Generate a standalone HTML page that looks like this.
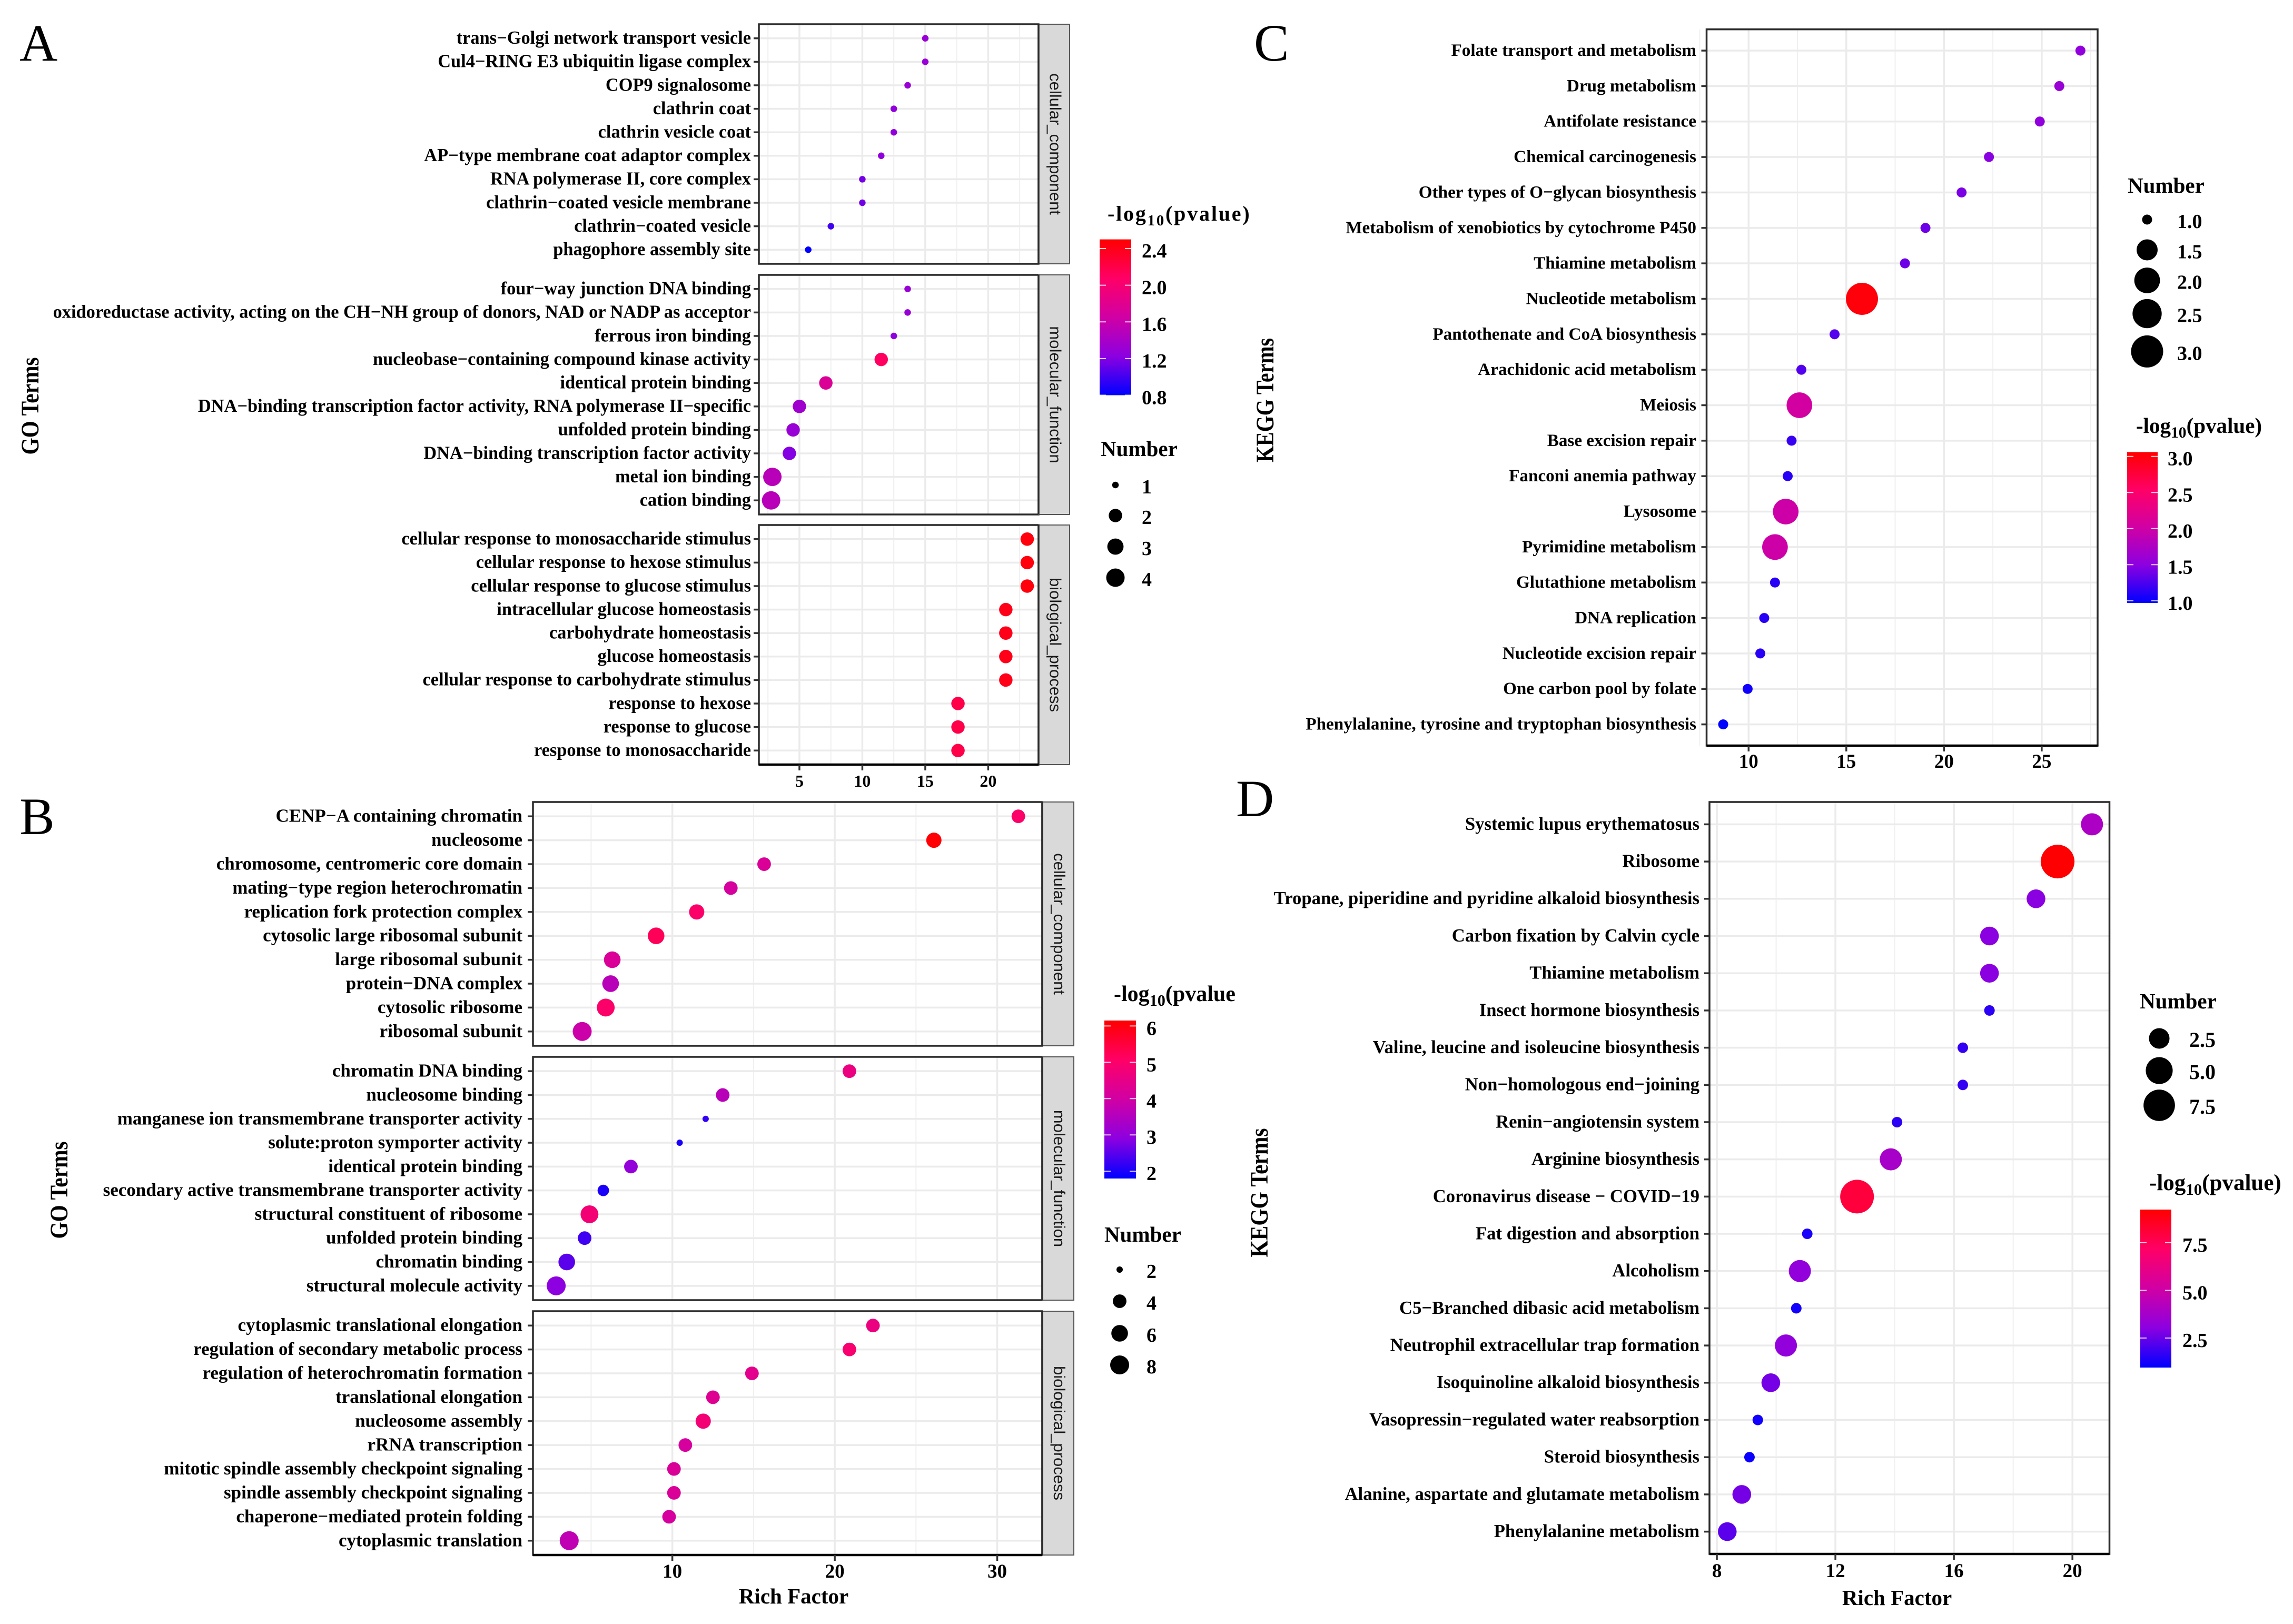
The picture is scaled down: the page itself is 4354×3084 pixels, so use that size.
<!DOCTYPE html>
<html lang="en">
<head>
<meta charset="utf-8">
<title>GO and KEGG enrichment bubble charts</title>
<style>
html,body{margin:0;padding:0;background:#fff;width:4354px;height:3084px;overflow:hidden}
svg{display:block}
text{font-family:"Liberation Serif",serif;font-weight:700;fill:#000}
</style>
</head>
<body>
<svg id="figure" xmlns="http://www.w3.org/2000/svg" width="4354" height="3084" viewBox="0 0 4354 3084">
<defs><clipPath id="clip-b-title"><rect x="2100" y="1850" width="245" height="80"/></clipPath></defs>
<rect x="0" y="0" width="4354" height="3084" fill="#fff"/>
<text x="37" y="115" font-size="100" style="font-weight:400">A</text>
<text x="37" y="1584" font-size="100" style="font-weight:400">B</text>
<text x="2381" y="115" font-size="100" style="font-weight:400">C</text>
<text x="2347" y="1550" font-size="100" style="font-weight:400">D</text>
</svg>
<script>
/* ---------- Chart A data ---------- */
const aCcTerms = ["trans−Golgi network transport vesicle","Cul4−RING E3 ubiquitin ligase complex","COP9 signalosome","clathrin coat","clathrin vesicle coat","AP−type membrane coat adaptor complex","RNA polymerase II, core complex","clathrin−coated vesicle membrane","clathrin−coated vesicle","phagophore assembly site"];
const aCcRich = [15,15,13.6,12.5,12.5,11.5,10,10,7.5,5.7];
const aCcCount = [1,1,1,1,1,1,1,1,1,1];
const aCcLogP = [1.3,1.3,1.3,1.25,1.25,1.25,1.15,1.15,1.0,0.8];
const aMfTerms = ["four−way junction DNA binding","oxidoreductase activity, acting on the CH−NH group of donors, NAD or NADP as acceptor","ferrous iron binding","nucleobase−containing compound kinase activity","identical protein binding","DNA−binding transcription factor activity, RNA polymerase II−specific","unfolded protein binding","DNA−binding transcription factor activity","metal ion binding","cation binding"];
const aMfRich = [13.6,13.6,12.5,11.5,7.1,5,4.5,4.2,2.85,2.75];
const aMfCount = [1,1,1,2,2,2,2,2,4,4];
const aMfLogP = [1.3,1.3,1.25,2.1,1.75,1.35,1.3,1.2,1.5,1.5];
const aBpTerms = ["cellular response to monosaccharide stimulus","cellular response to hexose stimulus","cellular response to glucose stimulus","intracellular glucose homeostasis","carbohydrate homeostasis","glucose homeostasis","cellular response to carbohydrate stimulus","response to hexose","response to glucose","response to monosaccharide"];
const aBpRich = [23.1,23.1,23.1,21.4,21.4,21.4,21.4,17.6,17.6,17.6];
const aBpCount = [2,2,2,2,2,2,2,2,2,2];
const aBpLogP = [2.45,2.45,2.45,2.4,2.4,2.4,2.4,2.2,2.2,2.2];
const aXTicks = [5,10,15,20];
const aXMinor = [2.5,7.5,12.5,17.5,22.5];
const aColorTicks = ["0.8","1.2","1.6","2.0","2.4"];
const aSizeTicks = ["1","2","3","4"];

/* ---------- Chart B data ---------- */
const bCcTerms = ["CENP−A containing chromatin","nucleosome","chromosome, centromeric core domain","mating−type region heterochromatin","replication fork protection complex","cytosolic large ribosomal subunit","large ribosomal subunit","protein−DNA complex","cytosolic ribosome","ribosomal subunit"];
const bCcRich = [31.3,26.1,15.65,13.6,11.5,9.0,6.3,6.2,5.9,4.45];
const bCcCount = [4,5,4,4,5,6,6,6,7,8];
const bCcLogP = [5.0,6.1,4.2,4.1,5.0,5.2,4.2,3.6,5.0,3.9];
const bMfTerms = ["chromatin DNA binding","nucleosome binding","manganese ion transmembrane transporter activity","solute:proton symporter activity","identical protein binding","secondary active transmembrane transporter activity","structural constituent of ribosome","unfolded protein binding","chromatin binding","structural molecule activity"];
const bMfRich = [20.9,13.1,12.05,10.45,7.45,5.75,4.9,4.6,3.5,2.85];
const bMfCount = [4,4,2,2,4,3,7,4,6,8];
const bMfLogP = [4.6,3.6,2.2,2.0,3.0,2.0,4.8,2.3,2.5,2.9];
const bBpTerms = ["cytoplasmic translational elongation","regulation of secondary metabolic process","regulation of heterochromatin formation","translational elongation","nucleosome assembly","rRNA transcription","mitotic spindle assembly checkpoint signaling","spindle assembly checkpoint signaling","chaperone−mediated protein folding","cytoplasmic translation"];
const bBpRich = [22.35,20.9,14.9,12.5,11.9,10.8,10.1,10.1,9.8,3.65];
const bBpCount = [4,4,4,4,5,4,4,4,4,8];
const bBpLogP = [4.6,4.9,4.4,4.3,4.8,4.1,4.2,4.2,4.1,3.7];
const bXTicks = [10,20,30];
const bXMinor = [5,15,25];
const bColorTicks = ["2","3","4","5","6"];
const bSizeTicks = ["2","4","6","8"];

/* ---------- Chart C data ---------- */
const cTerms = ["Folate transport and metabolism","Drug metabolism","Antifolate resistance","Chemical carcinogenesis","Other types of O−glycan biosynthesis","Metabolism of xenobiotics by cytochrome P450","Thiamine metabolism","Nucleotide metabolism","Pantothenate and CoA biosynthesis","Arachidonic acid metabolism","Meiosis","Base excision repair","Fanconi anemia pathway","Lysosome","Pyrimidine metabolism","Glutathione metabolism","DNA replication","Nucleotide excision repair","One carbon pool by folate","Phenylalanine, tyrosine and tryptophan biosynthesis"];
const cRich = [26.98,25.9,24.9,22.3,20.9,19.05,18.0,15.8,14.4,12.7,12.6,12.2,12.0,11.9,11.35,11.35,10.8,10.6,9.95,8.7];
const cCount = [1,1,1,1,1,1,1,3,1,1,2,1,1,2,2,1,1,1,1,1];
const cLogP = [1.55,1.6,1.55,1.5,1.45,1.4,1.4,3.0,1.3,1.3,2.05,1.2,1.15,2.0,2.0,1.15,1.15,1.15,1.05,1.0];
const cXTicks = [10,15,20,25];
const cXMinor = [7.5,12.5,17.5,22.5,27.5];
const cColorTicks = ["1.0","1.5","2.0","2.5","3.0"];
const cSizeTicks = ["1.0","1.5","2.0","2.5","3.0"];

/* ---------- Chart D data ---------- */
const dTerms = ["Systemic lupus erythematosus","Ribosome","Tropane, piperidine and pyridine alkaloid biosynthesis","Carbon fixation by Calvin cycle","Thiamine metabolism","Insect hormone biosynthesis","Valine, leucine and isoleucine biosynthesis","Non−homologous end−joining","Renin−angiotensin system","Arginine biosynthesis","Coronavirus disease − COVID−19","Fat digestion and absorption","Alcoholism","C5−Branched dibasic acid metabolism","Neutrophil extracellular trap formation","Isoquinoline alkaloid biosynthesis","Vasopressin−regulated water reabsorption","Steroid biosynthesis","Alanine, aspartate and glutamate metabolism","Phenylalanine metabolism"];
const dRich = [20.66,19.5,18.77,17.2,17.2,17.2,16.3,16.3,14.08,13.87,12.73,11.05,10.8,10.68,10.33,9.82,9.38,9.1,8.84,8.35];
const dCount = [3,9,2,2,2,1,1,1,1,3,9,1,3,1,3,2,1,1,2,2];
const dLogP = [4.0,9.2,3.0,3.0,3.0,1.6,1.7,1.7,1.6,3.8,8.0,1.3,3.2,1.2,3.2,2.7,1.2,1.1,2.7,2.3];
const dXTicks = [8,12,16,20];
const dXMinor = [10,14,18];
const dColorTicks = ["2.5","5.0","7.5"];
const dSizeTicks = ["2.5","5.0","7.5"];

/* ---------- Helpers ---------- */
const NS = "http://www.w3.org/2000/svg";
const root = document.getElementById("figure");
const GRADIENT = [[0,[0,0,255]],[0.25,[140,0,224]],[0.5,[208,0,164]],[0.75,[255,0,102]],[1,[255,0,0]]];

function mk(tag, attrs, parent) {
  const e = document.createElementNS(NS, tag);
  for (const k in attrs) e.setAttribute(k, attrs[k]);
  parent.appendChild(e);
  return e;
}
function colorAt(t) {
  t = Math.max(0, Math.min(1, t));
  for (let i = 1; i < GRADIENT.length; i++) {
    if (t <= GRADIENT[i][0]) {
      const a = GRADIENT[i-1], b = GRADIENT[i];
      const f = (t - a[0]) / (b[0] - a[0]);
      const c = a[1].map((v, j) => Math.round(v + (b[1][j] - v) * f));
      return "rgb(" + c.join(",") + ")";
    }
  }
  return "rgb(255,0,0)";
}
function sizeOf(n, s) {
  return s.dMin + (s.dMax - s.dMin) * Math.sqrt(Math.max(0, (n - s.nMin) / (s.nMax - s.nMin)));
}
function rotatedTitle(str, x, cy, size, len, parent, name) {
  const t = mk("text", {transform:"translate("+x+","+cy+") rotate(-90)","text-anchor":"middle","font-size":size,textLength:len,lengthAdjust:"spacingAndGlyphs"}, parent);
  t.textContent = str;
  
  
}

/* one facet: gridlines, ticks, term labels, dots, border, optional strip */
function drawFacet(c, f, terms, rich, count, logP, parent) {
  const xOf = v => c.left + (v - c.xMin) * (c.right - c.left) / (c.xMax - c.xMin);
  const unit = (f.bottom - f.top) / (terms.length - 1 + 1.2);
  const yOf = i => f.top + (i + 0.6) * unit;
  const g = mk("g", {}, parent);
  
  
  const panel = mk("rect", {x:c.left,y:f.top,width:c.right-c.left,height:f.bottom-f.top,fill:"#fff"}, g);
  
  
  c.minor.forEach(v => {
    const l = mk("line", {x1:xOf(v),x2:xOf(v),y1:f.top,y2:f.bottom,stroke:"#f0f0f0","stroke-width":2}, g);
    
    
  });
  c.ticks.forEach(v => {
    const l = mk("line", {x1:xOf(v),x2:xOf(v),y1:f.top,y2:f.bottom,stroke:"#ebebeb","stroke-width":3.5}, g);
    
    
  });
  terms.forEach((term, i) => {
    const y = yOf(i);
    const l = mk("line", {x1:c.left,x2:c.right,y1:y,y2:y,stroke:"#ebebeb","stroke-width":3.5}, g);
    
    
    const tk = mk("line", {x1:c.left-10,x2:c.left,y1:y,y2:y,stroke:"#333","stroke-width":3.5}, g);
    
    
    const t = mk("text", {x:c.labelRight,y:y+c.labelSize*0.3,"text-anchor":"end","font-size":c.labelSize}, g);
    t.textContent = term;
    
    
  });
  terms.forEach((term, i) => {
    const d = mk("circle", {cx:xOf(rich[i]),cy:yOf(i),r:sizeOf(count[i],c.size)/2,fill:colorAt((logP[i]-c.lo)/(c.hi-c.lo))}, g);
    
    
  });
  const b = mk("rect", {x:c.left,y:f.top,width:c.right-c.left,height:f.bottom-f.top,fill:"none",stroke:"#2b2b2b","stroke-width":3.5}, g);
  
  
  if (f.strip) {
    const s = mk("rect", {x:c.right,y:f.top,width:c.stripW,height:f.bottom-f.top,fill:"#d9d9d9",stroke:"#555","stroke-width":2}, g);
    
    
    const sl = mk("line", {x1:c.right,x2:c.right,y1:f.top,y2:f.bottom,stroke:"#2b2b2b","stroke-width":3.5}, g);
    
    
    const st = mk("text", {transform:"translate("+(c.right+c.stripW/2-8)+","+((f.top+f.bottom)/2)+") rotate(90)","text-anchor":"middle","font-size":31}, g);
    st.style.fontFamily = '"Liberation Sans",sans-serif';
    st.style.fontWeight = "400";
    st.style.fill = "#1a1a1a";
    st.textContent = f.strip;
    
    
  }
}
function drawXAxis(c, parent) {
  const xOf = v => c.left + (v - c.xMin) * (c.right - c.left) / (c.xMax - c.xMin);
  const g = mk("g", {}, parent);
  
  
  const base = mk("line", {x1:c.left,x2:c.right,y1:c.axisY,y2:c.axisY,stroke:"#000","stroke-width":4.5}, g);
  
  
  c.ticks.forEach(v => {
    const t = mk("line", {x1:xOf(v),x2:xOf(v),y1:c.axisY,y2:c.axisY+11,stroke:"#333","stroke-width":3.5}, g);
    
    
    const l = mk("text", {x:xOf(v),y:c.tickBaseline,"text-anchor":"middle","font-size":c.tickSize}, g);
    l.textContent = String(v);
    
    
  });
  if (c.xTitleX) {
    const t = mk("text", {x:c.xTitleX,y:c.xTitleY,"text-anchor":"middle","font-size":41}, g);
    t.textContent = "Rich Factor";
    
    
  }
}
function drawColorLegend(L, labels, parent, id) {
  const g = mk("g", {}, parent);
  
  
  const title = mk("text", {x:L.titleX,y:L.titleY,"font-size":L.titleSize,"letter-spacing":L.spacing||0}, g);
  if (L.clip) title.setAttribute("clip-path", "url(#" + L.clip + ")");
  
  
  const t1 = mk("tspan", {}, title); t1.textContent = "-log";
  const t2 = mk("tspan", {dy:9,"font-size":L.titleSize*0.72}, title); t2.textContent = "10";
  const t3 = mk("tspan", {dy:-9}, title); t3.textContent = "(pvalue)";
  const grad = mk("linearGradient", {id:id,x1:0,y1:1,x2:0,y2:0}, root.querySelector("defs"));
  GRADIENT.forEach(s => { mk("stop", {offset:s[0],"stop-color":colorAt(s[0])}, grad); });
  const bar = mk("rect", {x:L.barX,y:L.barTop,width:L.barW,height:L.barBottom-L.barTop,fill:"url(#"+id+")"}, g);
  
  
  const yOf = v => L.barBottom - (v - L.lo) * (L.barBottom - L.barTop) / (L.hi - L.lo);
  labels.forEach(s => {
    const v = parseFloat(s), y = yOf(v);
    const a = mk("line", {x1:L.barX,x2:L.barX+12,y1:y,y2:y,stroke:"#fff","stroke-width":2,opacity:.8}, g);
    
    
    const b = mk("line", {x1:L.barX+L.barW-12,x2:L.barX+L.barW,y1:y,y2:y,stroke:"#fff","stroke-width":2,opacity:.8}, g);
    
    
    const t = mk("text", {x:L.labelX,y:y+17,"font-size":38}, g);
    t.textContent = s;
    
    
  });
}
function drawSizeLegend(L, labels, keyYs, parent) {
  const g = mk("g", {}, parent);
  
  
  const title = mk("text", {x:L.titleX,y:L.titleY,"font-size":41}, g);
  title.textContent = "Number";
  
  
  labels.forEach((s, i) => {
    const c = mk("circle", {cx:L.keyX,cy:keyYs[i],r:sizeOf(parseFloat(s),L.size)/2,fill:"#000"}, g);
    
    
    const t = mk("text", {x:L.labelX,y:keyYs[i]+16,"font-size":L.labelSize||38}, g);
    t.textContent = s;
    
    
  });
}

/* ---------- Chart A ---------- */
const gA = mk("g", {}, root);


const sizeA = {nMin:1,nMax:4,dMin:12.5,dMax:35};
const cfgA = {left:1441,right:1972,xMin:1.78,xMax:24,ticks:aXTicks,minor:aXMinor,labelSize:34.4,labelRight:1426,lo:0.8,hi:2.5,size:sizeA,stripW:59,axisY:1452,tickBaseline:1494,tickSize:32};
drawFacet(cfgA,{key:"a-cellular-component",strip:"cellular_component",top:46,bottom:501},aCcTerms,aCcRich,aCcCount,aCcLogP,gA);
drawFacet(cfgA,{key:"a-molecular-function",strip:"molecular_function",top:522,bottom:977},aMfTerms,aMfRich,aMfCount,aMfLogP,gA);
drawFacet(cfgA,{key:"a-biological-process",strip:"biological_process",top:997,bottom:1452},aBpTerms,aBpRich,aBpCount,aBpLogP,gA);
drawXAxis(cfgA,gA);
rotatedTitle("GO Terms",73,771,48,185,gA,"y-axis-title-a");
drawColorLegend({titleX:2103,titleY:419,titleSize:40,spacing:2.8,barX:2088,barW:60,barTop:454.6,barBottom:750.5,lo:0.8,hi:2.5,labelX:2168},aColorTicks,gA,"grad-a");
drawSizeLegend({titleX:2090,titleY:866,keyX:2118,labelX:2168,size:sizeA},aSizeTicks,[921,979,1038,1097],gA);

/* ---------- Chart B ---------- */
const gB = mk("g", {}, root);


const sizeB = {nMin:2,nMax:8,dMin:12,dMax:36};
const cfgB = {left:1012,right:1979,xMin:1.42,xMax:32.77,ticks:bXTicks,minor:bXMinor,labelSize:35,labelRight:992,lo:1.8,hi:6.15,size:sizeB,stripW:60,axisY:2953,tickBaseline:2996,tickSize:37,xTitleX:1507,xTitleY:3045};
drawFacet(cfgB,{key:"b-cellular-component",strip:"cellular_component",top:1523,bottom:1986},bCcTerms,bCcRich,bCcCount,bCcLogP,gB);
drawFacet(cfgB,{key:"b-molecular-function",strip:"molecular_function",top:2007,bottom:2469},bMfTerms,bMfRich,bMfCount,bMfLogP,gB);
drawFacet(cfgB,{key:"b-biological-process",strip:"biological_process",top:2490,bottom:2953},bBpTerms,bBpRich,bBpCount,bBpLogP,gB);
drawXAxis(cfgB,gB);
rotatedTitle("GO Terms",128,2260,48,185,gB,"y-axis-title-b");
drawColorLegend({titleX:2115,titleY:1901,titleSize:42,clip:"clip-b-title",barX:2097,barW:60,barTop:1938,barBottom:2238,lo:1.8,hi:6.15,labelX:2177},bColorTicks,gB,"grad-b");
drawSizeLegend({titleX:2097,titleY:2358,keyX:2126,labelX:2177,size:sizeB},bSizeTicks,[2411,2471,2532,2592],gB);

/* ---------- Chart C ---------- */
const gC = mk("g", {}, root);


const sizeC = {nMin:1,nMax:3,dMin:19,dMax:61};
const cfgC = {left:3240.5,right:3983,xMin:7.85,xMax:27.86,ticks:cXTicks,minor:cXMinor,labelSize:33.2,labelRight:3221,lo:1,hi:3.05,size:sizeC,axisY:1416,tickBaseline:1458,tickSize:37};
drawFacet(cfgC,{key:"c-kegg",top:55.7,bottom:1416},cTerms,cRich,cCount,cLogP,gC);
drawXAxis(cfgC,gC);
rotatedTitle("KEGG Terms",2418,760,48,236,gC,"y-axis-title-c");
drawSizeLegend({titleX:4040,titleY:366,keyX:4077,labelX:4134,size:sizeC},cSizeTicks,[417,474.5,532.5,595.6,667.4],gC);
drawColorLegend({titleX:4056,titleY:822,titleSize:41,barX:4039,barW:58,barTop:858.5,barBottom:1145,lo:0.97,hi:3.06,labelX:4116},cColorTicks,gC,"grad-c");

/* ---------- Chart D ---------- */
const gD = mk("g", {}, root);


const sizeD = {nMin:1,nMax:9,dMin:20,dMax:64};
const cfgD = {left:3246,right:4005.5,xMin:7.75,xMax:21.25,ticks:dXTicks,minor:dXMinor,labelSize:34.7,labelRight:3227,lo:0.95,hi:9.24,size:sizeD,axisY:2951,tickBaseline:2995,tickSize:37,xTitleX:3602,xTitleY:3048};
drawFacet(cfgD,{key:"d-kegg",top:1523,bottom:2951},dTerms,dRich,dCount,dLogP,gD);
drawXAxis(cfgD,gD);
rotatedTitle("KEGG Terms",2407,2265,48,245,gD,"y-axis-title-d");
drawSizeLegend({titleX:4063,titleY:1915,keyX:4100,labelX:4157,labelSize:40,size:sizeD},dSizeTicks,[1972,2033,2099],gD);
drawColorLegend({titleX:4081,titleY:2260,titleSize:43,barX:4064,barW:59,barTop:2297,barBottom:2597,lo:0.95,hi:9.24,labelX:4144},dColorTicks,gD,"grad-d");
</script>
</body>
</html>
